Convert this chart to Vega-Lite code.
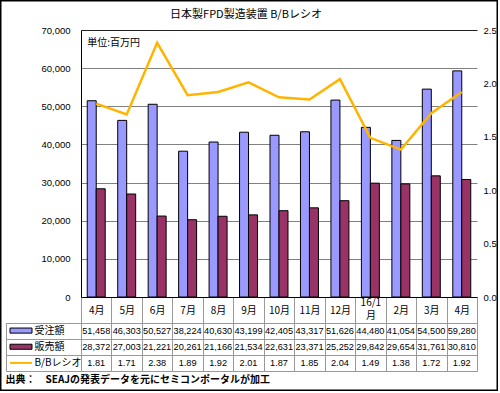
{
  "$schema": "https://vega.github.io/schema/vega-lite/v6.json",
  "width": 498,
  "height": 391,
  "autosize": {"type": "none"},
  "padding": 0,
  "background": "white",
  "title": {
    "text": "日本製FPD製造装置 B/Bレシオ",
    "font": "Noto Sans CJK JP",
    "fontSize": 11,
    "fontWeight": "normal",
    "color": "black",
    "anchor": "middle",
    "frame": "group",
    "offset": -25,
    "dx": -3
  },
  "datasets": {
    "bars": [
      {"m": "15/4", "s": "受注額", "v": 51458},
      {"m": "15/5", "s": "受注額", "v": 46303},
      {"m": "15/6", "s": "受注額", "v": 50527},
      {"m": "15/7", "s": "受注額", "v": 38224},
      {"m": "15/8", "s": "受注額", "v": 40630},
      {"m": "15/9", "s": "受注額", "v": 43199},
      {"m": "15/10", "s": "受注額", "v": 42405},
      {"m": "15/11", "s": "受注額", "v": 43317},
      {"m": "15/12", "s": "受注額", "v": 51626},
      {"m": "16/1", "s": "受注額", "v": 44480},
      {"m": "16/2", "s": "受注額", "v": 41054},
      {"m": "16/3", "s": "受注額", "v": 54500},
      {"m": "16/4", "s": "受注額", "v": 59280},
      {"m": "15/4", "s": "販売額", "v": 28372},
      {"m": "15/5", "s": "販売額", "v": 27003},
      {"m": "15/6", "s": "販売額", "v": 21221},
      {"m": "15/7", "s": "販売額", "v": 20261},
      {"m": "15/8", "s": "販売額", "v": 21166},
      {"m": "15/9", "s": "販売額", "v": 21534},
      {"m": "15/10", "s": "販売額", "v": 22631},
      {"m": "15/11", "s": "販売額", "v": 23371},
      {"m": "15/12", "s": "販売額", "v": 25252},
      {"m": "16/1", "s": "販売額", "v": 29842},
      {"m": "16/2", "s": "販売額", "v": 29654},
      {"m": "16/3", "s": "販売額", "v": 31761},
      {"m": "16/4", "s": "販売額", "v": 30810}
    ],
    "ratio": [
      {"m": "15/4", "r": 1.81},
      {"m": "15/5", "r": 1.71},
      {"m": "15/6", "r": 2.38},
      {"m": "15/7", "r": 1.89},
      {"m": "15/8", "r": 1.92},
      {"m": "15/9", "r": 2.01},
      {"m": "15/10", "r": 1.87},
      {"m": "15/11", "r": 1.85},
      {"m": "15/12", "r": 2.04},
      {"m": "16/1", "r": 1.49},
      {"m": "16/2", "r": 1.38},
      {"m": "16/3", "r": 1.72},
      {"m": "16/4", "r": 1.92}
    ],
    "keys": [
      {"k": "受注額"},
      {"k": "販売額"},
      {"k": "B/Bレシオ"}
    ],
    "note": [
      {"t": "単位:百万円"}
    ]
  },
  "config": {
    "view": {"stroke": "black", "strokeWidth": 3},
    "font": "Noto Sans CJK JP",
    "axis": {"labelColor": "black", "titleColor": "black"}
  },
  "resolve": {"scale": {"x": "independent", "y": "independent"}},
  "layer": [
    {
      "layer": [
        {
          "data": {"name": "bars"},
          "mark": {"type": "bar", "stroke": "black", "strokeWidth": 1},
          "encoding": {
            "x": {
              "field": "m", "type": "nominal", "sort": null,
              "scale": {"domain": ["15/4","15/5","15/6","15/7","15/8","15/9","15/10","15/11","15/12","16/1","16/2","16/3","16/4"], "range": [81, 477], "paddingInner": 0.41, "paddingOuter": 0.205},
              "axis": null
            },
            "xOffset": {"field": "s", "type": "nominal", "scale": {"domain": ["受注額", "販売額"], "paddingInner": 0, "paddingOuter": 0}},
            "y": {
              "field": "v", "type": "quantitative",
              "scale": {"domain": [0, 70000], "range": [297, 30], "nice": false},
              "axis": {
                "orient": "left", "offset": -81,
                "values": [0, 10000, 20000, 30000, 40000, 50000, 60000, 70000],
                "format": ",d", "ticks": false, "labelPadding": 11,
                "labelFont": "Liberation Sans", "labelFontSize": 9.5,
                "domain": true, "domainColor": "black", "domainWidth": 1,
                "grid": true,
                "gridColor": {"condition": {"test": "datum.value === 70000", "value": "#222222"}, "value": "#808080"},
                "gridWidth": 1,
                "title": null
              }
            },
            "color": {"field": "s", "type": "nominal", "scale": {"domain": ["受注額", "販売額"], "range": ["#9999FF", "#993366"]}, "legend": null}
          }
        },
        {
          "data": {"name": "note"},
          "mark": {"type": "text", "align": "left", "baseline": "middle", "fontSize": 10, "color": "black"},
          "encoding": {
            "x": {"datum": "15/4", "type": "nominal", "bandPosition": 0},
            "y": {"datum": 66500, "type": "quantitative"},
            "text": {"field": "t", "type": "nominal"}
          }
        }
      ]
    },
    {
      "data": {"name": "ratio"},
      "mark": {"type": "line", "color": "#FFB400", "strokeWidth": 2.5},
      "encoding": {
        "x": {
          "field": "m", "type": "nominal", "sort": null,
          "scale": {"domain": ["15/4","15/5","15/6","15/7","15/8","15/9","15/10","15/11","15/12","16/1","16/2","16/3","16/4"], "range": [81, 477], "paddingInner": 0, "paddingOuter": 0},
          "axis": null
        },
        "y": {
          "field": "r", "type": "quantitative",
          "scale": {"domain": [0, 2.5], "range": [297, 30], "nice": false},
          "axis": {
            "orient": "right", "offset": -21,
            "values": [0, 0.5, 1, 1.5, 2, 2.5],
            "format": ".1f", "ticks": false, "domain": false, "grid": false,
            "labelPadding": 6, "labelFont": "Liberation Sans", "labelFontSize": 9.5,
            "title": null
          }
        }
      }
    },
    {
      "layer": [
        {
          "data": {"name": "bars"},
          "mark": {"type": "text", "baseline": "middle", "font": "Liberation Sans", "fontSize": 9.2, "color": "black"},
          "encoding": {
            "x": {
              "field": "m", "type": "nominal", "sort": null,
              "scale": {"domain": ["15/4","15/5","15/6","15/7","15/8","15/9","15/10","15/11","15/12","16/1","16/2","16/3","16/4"], "range": [81, 477], "paddingInner": 0, "paddingOuter": 0},
              "axis": {
                "orient": "bottom", "offset": -94,
                "tickBand": "extent", "ticks": true, "tickSize": 74, "tickColor": "#999999", "tickWidth": 1,
                "domain": true, "domainColor": "black", "domainWidth": 1,
                "grid": false,
                "labelExpr": "datum.value == '16/1' ? ['16/1', '月'] : (isString(datum.value) ? split(datum.value, '/')[1] + '月' : '')",
                "labelAngle": 0, "labelBaseline": "middle",
                "labelPadding": {"condition": {"test": "datum.value == '16/1'", "value": -69}, "value": -61},
                "labelFont": "Noto Sans CJK JP", "labelFontSize": 10, "labelLineHeight": 13,
                "title": "出典：　SEAJの発表データを元にセミコンポータルが加工",
                "titleFont": "Noto Sans CJK JP", "titleFontSize": 10, "titleFontWeight": "bold",
                "titleAnchor": "start", "titleAlign": "left", "titleBaseline": "middle",
                "titleX": 5, "titleY": 82
              }
            },
            "y": {
              "field": "s", "type": "nominal",
              "scale": {"domain": ["受注額", "販売額", "B/Bレシオ"], "range": [322.5, 371], "paddingInner": 0, "paddingOuter": 0},
              "axis": {
                "orient": "left", "offset": -81,
                "tickBand": "extent", "ticks": true, "tickSize": 75, "tickColor": "#999999", "tickWidth": 1,
                "domain": true, "domainColor": "#999999",
                "grid": true, "gridColor": "#999999", "gridWidth": 1,
                "labelAlign": "left", "labelBaseline": "middle", "labelPadding": -28,
                "labelFont": "Noto Sans CJK JP", "labelFontSize": 10,
                "labelExpr": "isString(datum.value) ? datum.value : ''",
                "title": null
              }
            },
            "text": {"field": "v", "type": "quantitative", "format": ",d"}
          }
        },
        {
          "data": {"name": "ratio"},
          "mark": {"type": "text", "baseline": "middle", "font": "Liberation Sans", "fontSize": 9.2, "color": "black"},
          "encoding": {
            "x": {"field": "m", "type": "nominal", "sort": null},
            "y": {"datum": "B/Bレシオ", "type": "nominal"},
            "text": {"field": "r", "type": "quantitative", "format": ".2f"}
          }
        }
      ]
    },
    {
      "data": {"name": "keys"},
      "layer": [
        {
          "transform": [{"filter": "datum.k != 'B/Bレシオ'"}],
          "mark": {"type": "point", "shape": "M-1,-0.23H1V0.23H-1Z", "size": 484, "filled": true, "stroke": "black", "strokeWidth": 1, "opacity": 1},
          "encoding": {
            "x": {"datum": 0.2, "type": "quantitative", "scale": {"domain": [0, 1], "range": [6, 81]}, "axis": null},
            "y": {
              "field": "k", "type": "nominal",
              "scale": {"domain": ["受注額", "販売額", "B/Bレシオ"], "range": [322.5, 371], "paddingInner": 0, "paddingOuter": 0},
              "axis": {"orient": "left", "offset": -6, "domain": true, "domainColor": "#999999", "ticks": false, "labels": false, "grid": false, "title": null}
            },
            "fill": {"field": "k", "type": "nominal", "scale": {"domain": ["受注額", "販売額"], "range": ["#9999FF", "#993366"]}, "legend": null}
          }
        },
        {
          "transform": [{"filter": "datum.k == 'B/Bレシオ'"}],
          "mark": {"type": "point", "shape": "M-1,0H1", "size": 484, "filled": false, "stroke": "#FFB400", "strokeWidth": 2, "opacity": 1},
          "encoding": {
            "x": {"datum": 0.2, "type": "quantitative"},
            "y": {"field": "k", "type": "nominal"}
          }
        }
      ]
    }
  ]
}
